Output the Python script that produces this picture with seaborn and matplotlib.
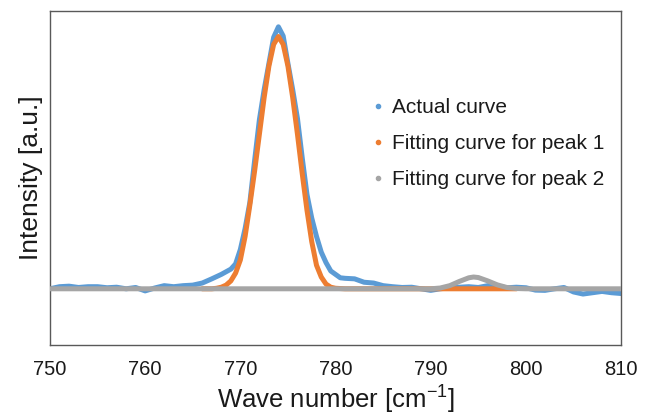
import numpy as np
import pandas as pd
import seaborn as sns
import matplotlib.pyplot as plt
from matplotlib.lines import Line2D

actual_x = [750, 751, 752, 753, 754, 755, 756, 757, 758, 759, 760, 761, 762, 763, 764, 765,
            766, 767, 768, 769, 769.5, 770, 770.5, 771, 771.5, 772, 772.5, 773, 773.5, 774,
            774.5, 775, 775.5, 776, 776.5, 777, 777.5, 778, 778.5, 779, 779.5, 780, 780.5,
            781, 782, 783, 784, 785, 786, 787, 788, 789, 790, 791, 792, 793, 794, 795, 796,
            797, 798, 799, 800, 801, 802, 803, 804, 805, 806, 807, 808, 809, 810]
actual_y = [0.0, 0.008, 0.01, 0.005, 0.008, 0.008, 0.004, 0.006, 0.0, 0.005, -0.008, 0.003,
            0.012, 0.008, 0.012, 0.014, 0.022, 0.038, 0.055, 0.075, 0.095, 0.15, 0.23, 0.33,
            0.49, 0.645, 0.76, 0.86, 0.96, 1.0, 0.965, 0.86, 0.76, 0.65, 0.5, 0.36, 0.27,
            0.2, 0.14, 0.1, 0.068, 0.055, 0.042, 0.04, 0.038, 0.025, 0.022, 0.012, 0.008,
            0.005, 0.006, 0.0, -0.006, 0.0, 0.004, 0.006, 0.008, 0.005, 0.012, 0.01, 0.004,
            0.006, 0.004, -0.005, -0.006, 0.0, 0.005, -0.012, -0.02, -0.015, -0.01, -0.015,
            -0.018]

# fitting curve for peak 1
peak1_x = [766, 767, 767.5, 768, 768.5, 769, 769.5, 770, 770.5, 771, 771.5, 772, 772.5, 773,
           773.5, 774, 774.5, 775, 775.5, 776, 776.5, 777, 777.5, 778, 778.5, 779, 779.5, 780,
           781, 790, 799]
peak1_y = [0.0, 0.0, 0.002, 0.006, 0.014, 0.03, 0.06, 0.11, 0.2, 0.32, 0.45, 0.59, 0.73, 0.85,
           0.933, 0.963, 0.933, 0.85, 0.73, 0.59, 0.44, 0.3, 0.18, 0.09, 0.045, 0.018, 0.006,
           0.002, 0.0, 0.0, 0.0]

# fitting curve for peak 2
peak2_x = [750, 760, 770, 780, 790, 791, 792, 793, 794, 794.5, 795, 796, 797, 798, 799, 800, 810]
peak2_y = [0.0, 0.0, 0.0, 0.0, 0.0, 0.003, 0.012, 0.028, 0.042, 0.045, 0.043, 0.03, 0.015,
           0.005, 0.001, 0.0, 0.0]

labels = ["Actual curve", "Fitting curve for peak 1", "Fitting curve for peak 2"]
colors = ["#5B9BD5", "#ED7D31", "#A5A5A5"]

sns.set_style("white")
plt.rcParams["font.family"] = ["Liberation Sans", "DejaVu Sans"]
plt.rcParams["mathtext.default"] = "regular"

fig = plt.figure(figsize=(6.49, 4.17), dpi=100)
ax = fig.add_axes([0.077, 0.173, 0.88, 0.801])

series = [(actual_x, actual_y), (peak1_x, peak1_y), (peak2_x, peak2_y)]
for i, ((xs, ys), c) in enumerate(zip(series, colors)):
    df = pd.DataFrame({"x": xs, "y": ys})
    sns.lineplot(data=df, x="x", y="y", color=c, lw=3.6, ax=ax, zorder=2 + i,
                 solid_capstyle="round", solid_joinstyle="round")

ax.set_xlim(750, 810)
ax.set_ylim(-0.214, 1.061)
ax.set_xticks(range(750, 811, 10))
ax.set_yticks([])
ax.tick_params(axis="x", direction="in", length=5, width=1, color="#595959",
               labelsize=14.5, pad=11, labelcolor="#1a1a1a")
for s in ax.spines.values():
    s.set_color("#595959")
    s.set_linewidth(1.0)

ax.set_xlabel("Wave number [cm$^{-1}$]", fontsize=18.5, color="#1a1a1a", labelpad=3)
ax.set_ylabel("Intensity [a.u.]", fontsize=19, color="#1a1a1a", labelpad=5)

handles = [Line2D([], [], marker="o", ls="none", color=c, markersize=3) for c in colors]
ax.legend(handles, labels, loc="upper left", bbox_to_anchor=(0.531, 0.795), frameon=False,
          fontsize=15, handlelength=0.6, handletextpad=0.35, labelspacing=0.82,
          labelcolor="#1a1a1a")

fig.savefig("out.png", dpi=100)
